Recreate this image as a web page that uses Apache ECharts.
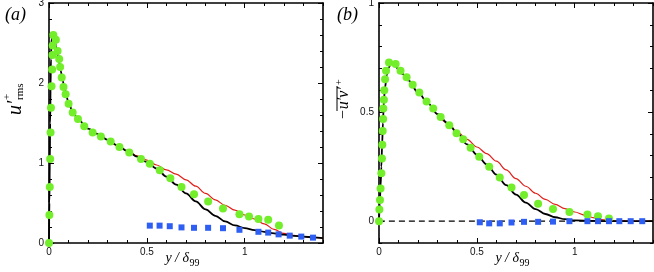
<!DOCTYPE html>
<html><head><meta charset="utf-8">
<script src="https://cdn.jsdelivr.net/npm/echarts@6/dist/echarts.min.js"></script>
<style>html,body{margin:0;padding:0;background:#fff}#c{width:654px;height:272px}</style>
</head><body><div id="c"></div>
<script>
// ---- tick labels ----
const xTickLabels = [0, 0.5, 1];
const yTickLabelsA = [0, 1, 2, 3];
const yTickLabelsB = [0, 0.5, 1];

// ---- panel (a): u'rms+ ----
const greenA = [[0,0],[0.002,0.35],[0.004,0.70],[0.006,1.05],[0.008,1.38],[0.010,1.69],[0.013,1.96],[0.016,2.17],[0.018,2.35],[0.019,2.47],[0.022,2.60],[0.035,2.54],[0.044,2.40],[0.052,2.30],[0.057,2.20],[0.065,2.07],[0.074,1.95],[0.085,1.86],[0.10,1.74],[0.121,1.63],[0.148,1.55],[0.18,1.46],[0.223,1.38],[0.265,1.33],[0.315,1.27],[0.36,1.20],[0.41,1.13],[0.47,1.05],[0.515,0.99],[0.566,0.91],[0.62,0.81],[0.677,0.70],[0.741,0.61],[0.813,0.52],[0.889,0.43],[0.973,0.36],[1.022,0.33],[1.07,0.30],[1.12,0.29],[1.175,0.22]];
const blueA = [[0.515,0.217],[0.565,0.217],[0.617,0.21],[0.677,0.195],[0.741,0.19],[0.813,0.19],[0.889,0.185],[0.973,0.165],[1.07,0.14],[1.12,0.13],[1.173,0.108],[1.23,0.092],[1.289,0.08],[1.349,0.067]];
const blackA = [[0,0],[0.002,0.5],[0.004,1.0],[0.006,1.5],[0.008,1.95],[0.010,2.3],[0.013,2.55],[0.017,2.62],[0.022,2.6],[0.03,2.52],[0.04,2.4],[0.05,2.28],[0.06,2.15],[0.07,2.03],[0.08,1.92],[0.1,1.76],[0.12,1.64],[0.15,1.54],[0.2,1.43],[0.25,1.36],[0.3,1.29],[0.35,1.22],[0.4,1.15],[0.45,1.08],[0.5,1.01],[0.55,0.93],[0.6,0.83],[0.65,0.73],[0.7,0.62],[0.75,0.52],[0.8,0.42],[0.85,0.34],[0.9,0.27],[0.95,0.22],[1.0,0.185],[1.05,0.16],[1.1,0.14],[1.15,0.12],[1.2,0.105],[1.25,0.09],[1.3,0.08],[1.35,0.07],[1.4,0.06]];
const redA = [[0.3,1.29],[0.35,1.22],[0.4,1.15],[0.45,1.09],[0.5,1.035],[0.55,0.975],[0.6,0.915],[0.65,0.86],[0.7,0.79],[0.75,0.71],[0.8,0.62],[0.85,0.54],[0.9,0.47],[0.95,0.41],[1.0,0.35],[1.05,0.30],[1.1,0.24],[1.15,0.17],[1.2,0.12],[1.25,0.095],[1.3,0.08],[1.35,0.07],[1.4,0.06]];

// ---- panel (b): -u'v'+ ----
const greenB = [[0,0],[0.002,0.054],[0.005,0.097],[0.008,0.15],[0.012,0.22],[0.015,0.287],[0.017,0.35],[0.019,0.413],[0.021,0.468],[0.022,0.517],[0.025,0.557],[0.027,0.60],[0.031,0.65],[0.036,0.69],[0.051,0.727],[0.085,0.72],[0.11,0.69],[0.141,0.66],[0.172,0.625],[0.206,0.59],[0.243,0.548],[0.277,0.517],[0.315,0.478],[0.359,0.44],[0.396,0.403],[0.43,0.375],[0.468,0.336],[0.512,0.295],[0.563,0.25],[0.617,0.20],[0.677,0.154],[0.741,0.12],[0.813,0.08],[0.889,0.056],[0.973,0.042],[1.065,0.031],[1.119,0.023],[1.175,0.012]];
const blueB = [[0.515,-0.005],[0.563,-0.01],[0.617,-0.01],[0.677,-0.006],[0.741,-0.003],[0.813,-0.003],[0.889,-0.002],[0.973,0],[1.065,0],[1.119,0],[1.175,0],[1.228,0],[1.286,0],[1.345,0]];
const blackB = [[0,0],[0.004,0.08],[0.008,0.16],[0.012,0.25],[0.016,0.35],[0.02,0.45],[0.025,0.55],[0.03,0.61],[0.04,0.67],[0.05,0.705],[0.06,0.72],[0.07,0.72],[0.08,0.715],[0.1,0.695],[0.12,0.675],[0.15,0.645],[0.2,0.59],[0.25,0.54],[0.3,0.49],[0.35,0.45],[0.4,0.405],[0.45,0.352],[0.5,0.305],[0.55,0.26],[0.6,0.213],[0.65,0.165],[0.7,0.122],[0.75,0.085],[0.8,0.055],[0.85,0.033],[0.9,0.018],[0.95,0.009],[1.0,0.004],[1.1,0.001],[1.2,0],[1.4,0]];
const redB = [[0.3,0.49],[0.35,0.45],[0.4,0.41],[0.45,0.375],[0.5,0.34],[0.55,0.31],[0.6,0.275],[0.65,0.235],[0.7,0.195],[0.75,0.16],[0.8,0.128],[0.85,0.1],[0.9,0.077],[0.95,0.058],[1.0,0.042],[1.05,0.028],[1.1,0.015],[1.15,0.006],[1.2,0.002],[1.3,0],[1.4,0]];
const zeroLineB = [[0,0],[1.4,0]];

const SANS = '"Liberation Sans", Arial, sans-serif';
const SERIF = '"Liberation Serif", "Times New Roman", serif';
const GREEN = '#72EE2A';
const BLUE = '#2F5EF2';
const RED = '#E0201B';

function makeAxes(dim, grid, min, max, labels, minorStep) {
  const sideA = dim === 'x' ? 'bottom' : 'left';
  const sideB = dim === 'x' ? 'top' : 'right';
  const base = {type: 'value', gridIndex: grid, min: min, max: max, splitLine: {show: false}};
  const line = {show: true, onZero: false, lineStyle: {color: '#000', width: 1.6}};
  const tickStyle = {color: '#000', width: 1};
  return [
    Object.assign({}, base, {position: sideA, axisLine: line,
      axisTick: {show: true, inside: true, length: 5, customValues: labels, lineStyle: tickStyle},
      axisLabel: {show: true, customValues: labels, formatter: v => String(v),
        margin: dim === 'x' ? 4 : 5, fontFamily: SANS, fontSize: 10, color: '#111'}}),
    Object.assign({}, base, {position: sideA, interval: minorStep, axisLine: {show: false, onZero: false},
      axisTick: {show: true, inside: true, length: 3, lineStyle: tickStyle}, axisLabel: {show: false}}),
    Object.assign({}, base, {position: sideB, axisLine: line,
      axisTick: {show: true, inside: true, length: 5, customValues: labels, lineStyle: tickStyle},
      axisLabel: {show: false}}),
    Object.assign({}, base, {position: sideB, interval: minorStep, axisLine: {show: false, onZero: false},
      axisTick: {show: true, inside: true, length: 3, lineStyle: tickStyle}, axisLabel: {show: false}})
  ];
}

function lineSeries(data, xi, color, width, z, dash) {
  return {type: 'line', xAxisIndex: xi, yAxisIndex: xi, data: data, showSymbol: false, symbol: 'none',
    smooth: 0.35, smoothMonotone: 'x', z: z, silent: true,
    lineStyle: {color: color, width: width, type: dash || 'solid', opacity: 1}};
}
function scatterSeries(data, xi, symbol, size, color, z) {
  return {type: 'scatter', xAxisIndex: xi, yAxisIndex: xi, data: data, symbol: symbol, symbolSize: size,
    itemStyle: {color: color, opacity: 1}, z: z, silent: true};
}

const chart = echarts.init(document.getElementById('c'), null, {renderer: 'canvas'});
chart.setOption({
  animation: false,
  backgroundColor: '#fff',
  grid: [
    {left: 49, top: 3, width: 274, height: 240, outerBoundsMode: 'none', containLabel: false},
    {left: 379, top: 3, width: 274, height: 240, outerBoundsMode: 'none', containLabel: false}
  ],
  xAxis: [].concat(makeAxes('x', 0, 0, 1.4, xTickLabels, 0.1), makeAxes('x', 1, 0, 1.4, xTickLabels, 0.1)),
  yAxis: [].concat(makeAxes('y', 0, 0, 3, yTickLabelsA, 0.2), makeAxes('y', 1, -0.1, 1, yTickLabelsB, 0.1)),
  series: [
    lineSeries(redA, 0, RED, 1.2, 2),
    lineSeries(blackA, 0, '#000', 1.8, 3),
    scatterSeries(greenA, 0, 'circle', 8, GREEN, 4),
    scatterSeries(blueA, 0, 'rect', 6, BLUE, 5),
    lineSeries(zeroLineB, 4, '#000', 1.2, 1, [6, 4]),
    lineSeries(redB, 4, RED, 1.2, 2),
    lineSeries(blackB, 4, '#000', 1.8, 3),
    scatterSeries(greenB, 4, 'circle', 8, GREEN, 4),
    scatterSeries(blueB, 4, 'rect', 6, BLUE, 5)
  ],
  graphic: [
    {type: 'text', x: 5, y: 15.5, style: {text: '(a)', font: 'italic 18px ' + SERIF, fill: '#000', align: 'left', verticalAlign: 'middle'}},
    {type: 'text', x: 337, y: 15.5, style: {text: '(b)', font: 'italic 18px ' + SERIF, fill: '#000', align: 'left', verticalAlign: 'middle'}},
    // y-title (a)
    {type: 'group', x: 22, y: 115, rotation: Math.PI / 2, children: [
      {type: 'text', x: 0, y: -6, style: {text: 'u\u2032', font: 'italic 20px ' + SERIF, fill: '#000', align: 'left', verticalAlign: 'middle'}},
      {type: 'text', x: 15, y: -15, style: {text: '+', font: '11px ' + SERIF, fill: '#000', align: 'left', verticalAlign: 'middle'}},
      {type: 'text', x: 15, y: -2, style: {text: 'rms', font: '11px ' + SERIF, fill: '#000', align: 'left', verticalAlign: 'middle'}}
    ]},
    // y-title (b)
    {type: 'group', x: 349, y: 120, rotation: Math.PI / 2, children: [
      {type: 'text', x: 0, y: -5, style: {text: '\u2212u\u2032v\u2032', font: 'italic 16px ' + SERIF, fill: '#000', align: 'left', verticalAlign: 'middle'}},
      {type: 'text', x: 35, y: -10, style: {text: '+', font: '10px ' + SERIF, fill: '#000', align: 'left', verticalAlign: 'middle'}},
      {type: 'line', shape: {x1: 9, y1: -12, x2: 34, y2: -12}, style: {stroke: '#000', lineWidth: 1}}
    ]},
    // x-titles
    {type: 'text', x: 189, y: 258, style: {text: 'y / \u03B4', font: 'italic 14px ' + SERIF, fill: '#000', align: 'right', verticalAlign: 'middle'}},
    {type: 'text', x: 189.5, y: 263, style: {text: '99', font: '10px ' + SERIF, fill: '#000', align: 'left', verticalAlign: 'middle'}},
    {type: 'text', x: 519, y: 258, style: {text: 'y / \u03B4', font: 'italic 14px ' + SERIF, fill: '#000', align: 'right', verticalAlign: 'middle'}},
    {type: 'text', x: 519.5, y: 263, style: {text: '99', font: '10px ' + SERIF, fill: '#000', align: 'left', verticalAlign: 'middle'}}
  ]
});
</script>
</body></html>
